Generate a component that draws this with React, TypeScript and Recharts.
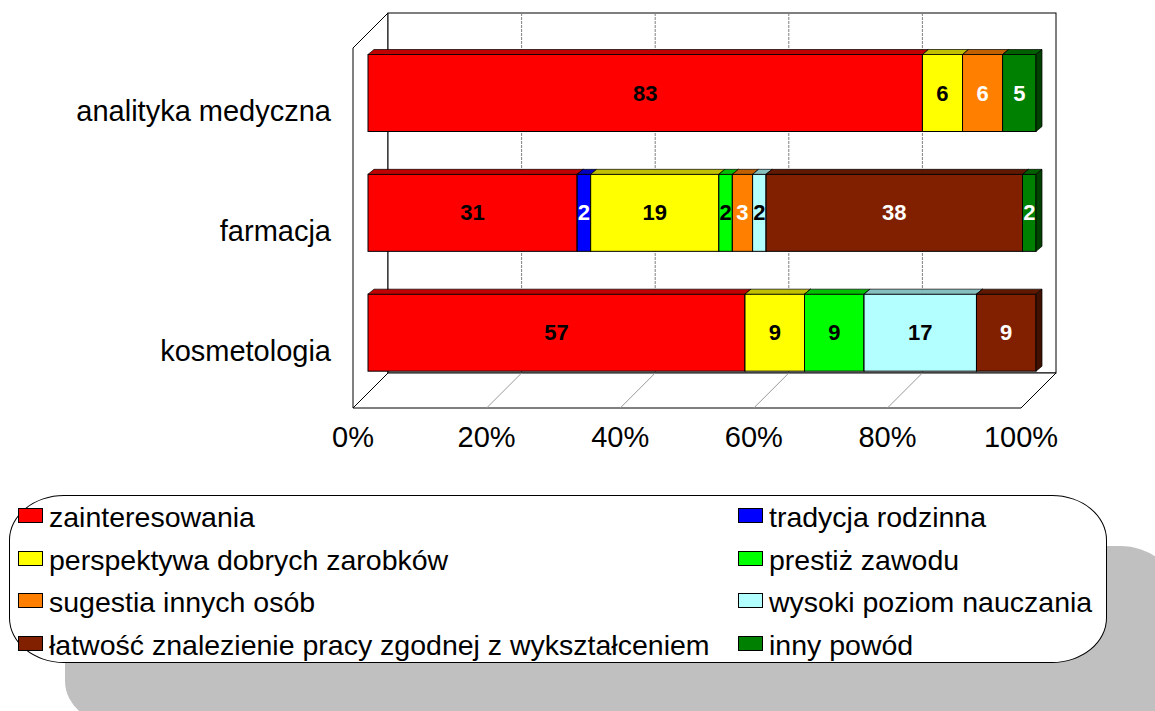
import React from "react";
import { Bar, BarChart, Customized, LabelList, Legend, XAxis, YAxis } from "recharts";

const categories = ["analityka medyczna", "farmacja", "kosmetologia"];
const zainteresowania = [83, 31, 57];
const tradycja = [0, 2, 0];
const perspektywa = [6, 19, 9];
const prestiz = [0, 2, 9];
const sugestia = [6, 3, 0];
const poziom = [0, 2, 17];
const latwosc = [0, 38, 9];
const inny = [5, 2, 0];
const xTicks = [0, 0.2, 0.4, 0.6, 0.8, 1];

const SERIES = [
  { key: "s0", name: "zainteresowania", values: zainteresowania, fill: "#ff0000", top: "#c00000", side: "#800000", text: "#000" },
  { key: "s1", name: "tradycja rodzinna", values: tradycja, fill: "#0000ff", top: "#0000c0", side: "#000080", text: "#fff" },
  { key: "s2", name: "perspektywa dobrych zarobków", values: perspektywa, fill: "#ffff00", top: "#c0c000", side: "#808000", text: "#000" },
  { key: "s3", name: "prestiż zawodu", values: prestiz, fill: "#00ff00", top: "#00c000", side: "#008000", text: "#000" },
  { key: "s4", name: "sugestia innych osób", values: sugestia, fill: "#ff8000", top: "#c06000", side: "#804000", text: "#fff" },
  { key: "s5", name: "wysoki poziom nauczania", values: poziom, fill: "#b3ffff", top: "#86bfbf", side: "#5a8080", text: "#000" },
  { key: "s6", name: "łatwość znalezienie pracy zgodnej z wykształceniem", values: latwosc, fill: "#802000", top: "#601800", side: "#401000", text: "#fff" },
  { key: "s7", name: "inny powód", values: inny, fill: "#008000", top: "#006000", side: "#004000", text: "#fff" },
];

const rows = categories.map((name, i) => {
  const row: any = { name };
  SERIES.forEach((s) => (row[s.key] = s.values[i]));
  return row;
});

const FONT = "'Liberation Sans', Arial, sans-serif";
const W = 1155;
const H = 711;

// 3D frame: front plane and back plane offset
const FRONT_L = 353;
const SPAN = 668;
const DEPTH = 35;
const FRONT_TOP = 48;
const FRONT_BOTTOM = 408;
const BAR_SHIFT = 15; // bars sit this far behind the front plane
const BOX_DX = 6;
const BOX_DY = 5;

function Frame3D() {
  const bl = FRONT_L + DEPTH;
  const bt = FRONT_TOP - DEPTH;
  const bb = FRONT_BOTTOM - DEPTH;
  return (
    <g>
      <polygon
        points={`${FRONT_L},${FRONT_TOP} ${bl},${bt} ${bl},${bb} ${FRONT_L},${FRONT_BOTTOM}`}
        fill="#fff"
        stroke="#000"
      />
      <rect x={bl} y={bt} width={SPAN} height={bb - bt} fill="#fff" stroke="#000" />
      <polygon
        points={`${FRONT_L},${FRONT_BOTTOM} ${bl},${bb} ${bl + SPAN},${bb} ${FRONT_L + SPAN},${FRONT_BOTTOM}`}
        fill="#fff"
        stroke="#000"
      />
      {xTicks.slice(1, -1).map((v) => (
        <g key={v}>
          <line x1={bl + v * SPAN} y1={bt} x2={bl + v * SPAN} y2={bb} stroke="#808080" strokeDasharray="3 1" />
          <line x1={bl + v * SPAN} y1={bb} x2={FRONT_L + v * SPAN} y2={FRONT_BOTTOM} stroke="#999" />
        </g>
      ))}
    </g>
  );
}

function Box3D(props: any) {
  const { x, y, width, height, fill, topFill, sideFill } = props;
  if (!width || width < 0.5) return null;
  const r = x + width;
  return (
    <g>
      <rect x={x} y={y} width={width} height={height} fill={fill} stroke="#000" strokeWidth={1} />
      <polygon
        points={`${x},${y} ${x + BOX_DX},${y - BOX_DY} ${r + BOX_DX},${y - BOX_DY} ${r},${y}`}
        fill={topFill}
        stroke="#000"
        strokeWidth={0.7}
      />
      <polygon
        points={`${r},${y} ${r + BOX_DX},${y - BOX_DY} ${r + BOX_DX},${y + height - BOX_DY} ${r},${y + height}`}
        fill={sideFill}
        stroke="#000"
        strokeWidth={0.7}
      />
    </g>
  );
}

function XTick(props: any) {
  const { x, payload } = props;
  return (
    <text
      x={x - BAR_SHIFT}
      y={437}
      textAnchor="middle"
      dominantBaseline="central"
      fontFamily={FONT}
      fontSize={29}
      fill="#000"
    >
      {Math.round(payload.value * 100) + "%"}
    </text>
  );
}

function YTick(props: any) {
  const { y, payload } = props;
  return (
    <text
      x={331}
      y={y + 18}
      textAnchor="end"
      dominantBaseline="central"
      fontFamily={FONT}
      fontSize={29}
      fill="#000"
    >
      {payload.value}
    </text>
  );
}

function LegendBox() {
  const rowsY = [517, 560, 602, 645];
  return (
    <div style={{ position: "absolute", left: 0, top: 0, width: W, height: H, fontFamily: FONT }}>
      <div
        style={{
          position: "absolute",
          left: 65,
          top: 546,
          width: 1110,
          height: 180,
          background: "#c0c0c0",
          borderRadius: "55px / 45px",
        }}
      />
      <div
        style={{
          position: "absolute",
          left: 9,
          top: 495,
          width: 1096,
          height: 166,
          background: "#fff",
          border: "1px solid #000",
          borderRadius: "55px / 45px",
        }}
      />
      {SERIES.map((s, i) => (
        <div
          key={s.key}
          style={{
            position: "absolute",
            left: i % 2 === 0 ? 18 : 738,
            top: rowsY[Math.floor(i / 2)] - 20,
            height: 40,
            display: "flex",
            alignItems: "center",
            whiteSpace: "nowrap",
            fontSize: 28.5,
            color: "#000",
          }}
        >
          <span
            style={{
              display: "inline-block",
              width: 23,
              height: 13,
              background: s.fill,
              border: "1px solid #000",
              marginRight: 6,
              marginTop: -3,
            }}
          />
          {s.name}
        </div>
      ))}
    </div>
  );
}

export default function App() {
  return (
    <div style={{ position: "absolute", left: 0, top: 0, width: W, height: H, overflow: "hidden", background: "#fff" }}>
      <BarChart
        width={W}
        height={H}
        data={rows}
        layout="vertical"
        stackOffset="expand"
        barSize={77}
        margin={{ top: 33.5, right: 119, bottom: 278, left: 8 }}
      >
        <Customized component={<Frame3D />} />
        <XAxis
          type="number"
          domain={[0, 1]}
          ticks={xTicks}
          axisLine={false}
          tickLine={false}
          height={40}
          tick={<XTick />}
          interval={0}
        />
        <YAxis type="category" dataKey="name" width={360} axisLine={false} tickLine={false} tick={<YTick />} />
        {SERIES.map((s) => (
          <Bar
            key={s.key}
            dataKey={s.key}
            name={s.name}
            stackId="a"
            fill={s.fill}
            isAnimationActive={false}
            shape={(p: any) => <Box3D {...p} fill={s.fill} topFill={s.top} sideFill={s.side} />}
          >
            <LabelList
              dataKey={s.key}
              content={(p: any) => {
                const v = s.values[p.index];
                if (!v) return null;
                return (
                  <text
                    x={p.x + p.width / 2}
                    y={p.y + p.height / 2}
                    textAnchor="middle"
                    dominantBaseline="central"
                    fontFamily={FONT}
                    fontWeight="bold"
                    fontSize={22}
                    fill={s.text}
                  >
                    {v}
                  </text>
                );
              }}
            />
          </Bar>
        ))}
        <Legend layout="horizontal" verticalAlign="middle" align="center" wrapperStyle={{ left: 0, top: 0, width: W, height: H }} content={<LegendBox />} />
      </BarChart>
    </div>
  );
}
